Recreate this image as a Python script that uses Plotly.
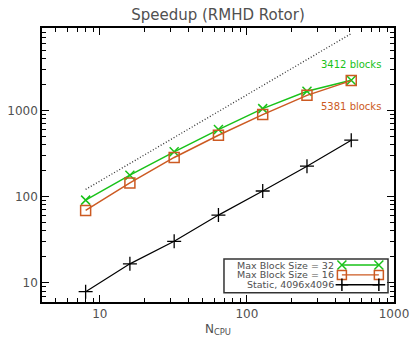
import plotly.graph_objects as go

# ---- data ----
n_cpu = [8, 16, 32, 64, 128, 256, 512]
speedup_32 = [91, 177, 330, 598, 1046, 1660, 2230]
speedup_16 = [69, 144, 284, 514, 892, 1490, 2210]
speedup_static = [7.9, 16.6, 30.3, 61, 116, 225, 450]
ideal_n = [8, 512]
ideal_speedup = [121, 7744]

series_names = ["Max Block Size = 32", "Max Block Size = 16", "Static, 4096x4096"]
x_tickvals = [10, 100, 1000]
x_ticktext = ["10", "100", "1000"]
y_tickvals = [10, 100, 1000]
y_ticktext = ["10", "100", "1000"]
minor_vals = [m * d for d in (1, 10, 100, 1000) for m in range(2, 10)]

GREEN = "#19c219"
ORANGE = "#cc5a22"
BLACK = "#000000"
TXT = "#505050"
FONT = "DejaVu Sans"

fig = go.Figure()

fig.add_trace(go.Scatter(x=ideal_n, y=ideal_speedup, mode="lines",
                         line=dict(color="#333333", width=1.3, dash="1px,2px"),
                         showlegend=False, hoverinfo="skip"))
fig.add_trace(go.Scatter(x=n_cpu, y=speedup_32, mode="lines+markers",
                         line=dict(color=GREEN, width=1.5),
                         marker=dict(symbol="x-thin-open", size=9, line=dict(color=GREEN, width=1.5)),
                         showlegend=False))
fig.add_trace(go.Scatter(x=n_cpu, y=speedup_16, mode="lines+markers",
                         line=dict(color=ORANGE, width=1.5),
                         marker=dict(symbol="square-open", size=10, color=ORANGE, line=dict(color=ORANGE, width=1.5)),
                         showlegend=False))
fig.add_trace(go.Scatter(x=n_cpu, y=speedup_static, mode="lines+markers",
                         line=dict(color=BLACK, width=1.2),
                         marker=dict(symbol="cross-thin-open", size=10, line=dict(color=BLACK, width=1.3)),
                         showlegend=False))

# ---- custom IDL-style legend (text left, sample right) ----
leg_rows = [0.135, 0.0987, 0.063]
leg_colors = [GREEN, ORANGE, BLACK]
leg_symbols = ["x-thin-open", "square-open", "cross-thin-open"]
for name, yy, col, sym in zip(series_names, leg_rows, leg_colors, leg_symbols):
    fig.add_trace(go.Scatter(x=[0.852, 0.957], y=[yy, yy], xaxis="x2", yaxis="y2",
                             mode="lines+markers",
                             line=dict(color=col, width=1.3),
                             marker=dict(symbol=sym, size=9, color=col, line=dict(color=col, width=1.5)),
                             showlegend=False, hoverinfo="skip"))
    fig.add_annotation(x=0.8325, y=yy, xref="paper", yref="paper", text=name,
                       showarrow=False, xanchor="right", yanchor="middle", borderpad=0,
                       font=dict(family=FONT, size=9.5, color=TXT))
fig.add_shape(type="rect", xref="paper", yref="paper", x0=0.517, x1=0.983, y0=0.034, y1=0.157,
              line=dict(color="#333333", width=1.5), fillcolor="rgba(0,0,0,0)")

fig.add_annotation(x=0.969, y=0.866, xref="paper", yref="paper", text="3412 blocks",
                   showarrow=False, xanchor="right", yanchor="middle",
                   font=dict(family=FONT, size=10, color=GREEN))
fig.add_annotation(x=0.969, y=0.712, xref="paper", yref="paper", text="5381 blocks",
                   showarrow=False, xanchor="right", yanchor="middle",
                   font=dict(family=FONT, size=10, color=ORANGE))

axis_common = dict(type="log", showgrid=False, zeroline=False, showline=True,
                   linecolor="black", linewidth=1.5, mirror="allticks",
                   ticks="inside", ticklen=7, tickwidth=1, tickcolor="black",
                   automargin=False,
                   minor=dict(tickmode="array", tickvals=minor_vals, ticks="inside", ticklen=4,
                              tickwidth=1, tickcolor="black", showgrid=False),
                   tickfont=dict(family=FONT, size=12, color=TXT))

fig.update_layout(
    width=415, height=346,
    margin=dict(l=42, r=21, t=28, b=44),
    paper_bgcolor="white", plot_bgcolor="white",
    title=dict(text="Speedup (RMHD Rotor)", x=0.5, xref="paper", y=1 - 15 / 346, yref="container",
               xanchor="center", yanchor="middle", automargin=False,
               font=dict(family=FONT, size=15, color=TXT)),
    xaxis=dict(range=[0.6064, 3.0], tickvals=x_tickvals, ticktext=x_ticktext,
               title=dict(text="N<sub>CPU</sub>", font=dict(family=FONT, size=12, color=TXT), standoff=4),
               **axis_common),
    yaxis=dict(range=[0.778, 3.954], tickvals=y_tickvals, ticktext=y_ticktext, **axis_common),
    xaxis2=dict(overlaying="x", range=[0, 1], visible=False, fixedrange=True),
    yaxis2=dict(overlaying="y", range=[0, 1], visible=False, fixedrange=True),
    showlegend=False,
)

fig.write_html("out.html", config={"displayModeBar": False},
               post_script="document.body.style.margin='0';")
